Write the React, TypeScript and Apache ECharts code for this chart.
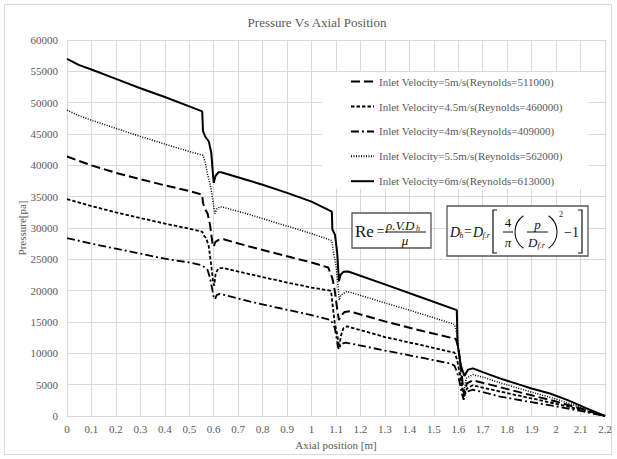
import React, { useEffect, useRef } from "react";
import * as echarts from "echarts";

// Pressure [pa] along the axial position [m] for each inlet velocity.
const seriesNames = [
  "Inlet Velocity=5m/s(Reynolds=511000)",
  "Inlet Velocity=4.5m/s(Reynolds=460000)",
  "Inlet Velocity=4m/s(Reynolds=409000)",
  "Inlet Velocity=5.5m/s(Reynolds=562000)",
  "Inlet Velocity=6m/s(Reynolds=613000)",
];

const vel5: [number, number][] = [
  [0, 41400], [0.1, 40000], [0.2, 38800], [0.3, 37800], [0.4, 36800], [0.5, 35900], [0.553, 35300],
  [0.556, 34000], [0.565, 33000], [0.575, 32300], [0.585, 30500], [0.595, 27500], [0.6, 27000],
  [0.607, 27800], [0.62, 28100], [0.64, 28200], [0.75, 27000], [0.9, 25500], [1.0, 24500],
  [1.068, 23700], [1.075, 23000], [1.085, 22000], [1.095, 20000], [1.105, 17000], [1.112, 15300],
  [1.12, 16000], [1.135, 16600], [1.155, 16700], [1.3, 15100], [1.45, 13600], [1.59, 12300],
  [1.6, 11000], [1.61, 8000], [1.62, 4500], [1.625, 3500], [1.635, 5200], [1.66, 5700],
  [1.771, 4600], [1.9, 3300], [2.0, 2300], [2.1, 1200], [2.2, 0],
];

const vel45: [number, number][] = [
  [0, 34600], [0.1, 33500], [0.2, 32500], [0.3, 31600], [0.4, 30700], [0.5, 29900], [0.553, 29400],
  [0.56, 28800], [0.57, 28300], [0.58, 27000], [0.59, 24000], [0.597, 21500], [0.602, 20800],
  [0.608, 22800], [0.62, 23600], [0.64, 23600], [0.75, 22600], [0.9, 21300], [1.0, 20500],
  [1.076, 20000], [1.08, 19900], [1.088, 17000], [1.095, 14800], [1.105, 13000], [1.113, 11000],
  [1.12, 12800], [1.13, 14000], [1.145, 14300], [1.3, 12600], [1.45, 11300], [1.585, 10100],
  [1.595, 9000], [1.61, 6000], [1.62, 3500], [1.625, 3000], [1.635, 4400], [1.66, 4900],
  [1.771, 3900], [1.9, 2800], [2.0, 1950], [2.1, 1000], [2.2, 0],
];

const vel4: [number, number][] = [
  [0, 28400], [0.1, 27500], [0.2, 26700], [0.3, 25900], [0.4, 25100], [0.5, 24500], [0.548, 24100],
  [0.56, 23800], [0.575, 23300], [0.585, 22000], [0.592, 20600], [0.6, 19000], [0.605, 18600],
  [0.612, 19300], [0.625, 19500], [0.75, 18250], [0.9, 16950], [1.0, 16100], [1.078, 15300],
  [1.088, 14700], [1.095, 14000], [1.1, 13000], [1.108, 11000], [1.113, 10600], [1.12, 11500],
  [1.14, 11700], [1.155, 11600], [1.3, 10450], [1.45, 9300], [1.57, 8350], [1.585, 8000],
  [1.595, 7000], [1.605, 5500], [1.615, 3500], [1.622, 2600], [1.63, 3800], [1.66, 4200],
  [1.771, 3100], [1.9, 2200], [2.0, 1550], [2.1, 800], [2.2, 0],
];

const vel55: [number, number][] = [
  [0, 48800], [0.05, 47900], [0.1, 47200], [0.2, 45900], [0.3, 44600], [0.4, 43400], [0.5, 42200],
  [0.556, 41600], [0.565, 40500], [0.575, 38500], [0.585, 37000], [0.59, 36000], [0.6, 33500],
  [0.605, 32300], [0.612, 33000], [0.626, 33400], [0.64, 33300], [0.75, 32100], [0.9, 30300],
  [1.0, 29100], [1.075, 28100], [1.083, 28000], [1.088, 26500], [1.1, 24000], [1.108, 21000],
  [1.113, 18500], [1.12, 19300], [1.145, 19900], [1.3, 18050], [1.45, 16300], [1.585, 14600],
  [1.595, 13000], [1.605, 9000], [1.615, 5000], [1.622, 3500], [1.632, 6000], [1.66, 6600],
  [1.7, 6200], [1.771, 5300], [1.9, 3800], [2.0, 2700], [2.1, 1400], [2.2, 0],
];

const vel6: [number, number][] = [
  [0, 57000], [0.05, 56000], [0.1, 55300], [0.2, 53800], [0.3, 52300], [0.4, 50900], [0.5, 49400],
  [0.553, 48600], [0.556, 45500], [0.565, 44600], [0.58, 43800], [0.59, 42000], [0.597, 38500],
  [0.6, 37200], [0.607, 38300], [0.62, 38900], [0.63, 38900], [0.75, 37500], [0.8, 36900],
  [0.9, 35600], [1.0, 34200], [1.083, 32600], [1.085, 29800], [1.096, 28900], [1.105, 26000],
  [1.112, 21500], [1.118, 22500], [1.13, 23000], [1.15, 23050], [1.3, 21000], [1.45, 18900],
  [1.594, 16900], [1.597, 11600], [1.61, 8100], [1.625, 6400], [1.64, 7400], [1.66, 7600],
  [1.7, 7000], [1.77, 6000], [1.85, 5000], [1.9, 4400], [1.975, 3600], [2.05, 2500], [2.12, 1300],
  [2.2, 0],
];

const seriesData = [vel5, vel45, vel4, vel55, vel6];
const seriesDash: (number[] | "solid")[] = [[9, 4], [3.5, 2], [8, 3, 2, 3], [1, 1.5], "solid"];
const seriesWidth = [2, 1.8, 1.8, 1.5, 2];

const SERIF = "Liberation Serif";
const GREY = "#595959";

function txt(text: string, x: number, y: number, size: number, italic = false, align = "left") {
  return {
    type: "text",
    x,
    y,
    z: 101,
    style: {
      text,
      fontFamily: SERIF,
      fontSize: size,
      fontStyle: italic ? "italic" : "normal",
      fill: "#111",
      align,
      verticalAlign: "middle",
    },
  };
}

function hline(x1: number, x2: number, y: number) {
  return { type: "line", z: 101, shape: { x1, y1: y, x2, y2: y }, style: { stroke: "#111", lineWidth: 1 } };
}

// Reynolds number and hydraulic diameter formulas, each in its own framed box
const formulaGraphics = [
  {
    type: "rect",
    z: 100,
    shape: { x: 352, y: 213, width: 79, height: 35 },
    style: { fill: "#fff", stroke: "#555", lineWidth: 1.3 },
  },
  txt("Re", 355, 231, 17),
  txt("=", 376.5, 231, 14),
  txt("ρ.V.D", 386, 225, 13, true),
  txt("h", 416, 228, 8, true),
  hline(385, 426, 232),
  txt("μ", 405, 240.5, 13, true, "center"),

  {
    type: "rect",
    z: 100,
    shape: { x: 447, y: 206, width: 141, height: 50 },
    style: { fill: "#fff", stroke: "#555", lineWidth: 1.3 },
  },
  txt("D", 450, 232, 14, true),
  txt("h", 459.5, 235, 8, true),
  txt("=", 464, 231, 14),
  txt("D", 473, 232, 14, true),
  txt("f.r", 482.5, 235, 8, true),
  {
    type: "polyline",
    z: 101,
    shape: { points: [[497, 210], [493, 210], [493, 253], [497, 253]] },
    style: { stroke: "#111", lineWidth: 1.2, fill: null },
  },
  txt("4", 508, 222, 13, false, "center"),
  hline(503, 513, 232),
  txt("π", 508, 242, 13, true, "center"),
  {
    type: "arc",
    z: 101,
    shape: { cx: 535, cy: 232, r: 20, startAngle: Math.PI - 0.95, endAngle: Math.PI + 0.95, clockwise: true },
    style: { stroke: "#111", lineWidth: 1.1, fill: null },
  },
  txt("p", 537.5, 224, 13, true, "center"),
  hline(527, 548, 232),
  txt("D", 528, 242, 13, true),
  txt("f.r", 537.5, 245, 8, true),
  {
    type: "arc",
    z: 101,
    shape: { cx: 537, cy: 232, r: 20, startAngle: -0.95, endAngle: 0.95, clockwise: true },
    style: { stroke: "#111", lineWidth: 1.1, fill: null },
  },
  txt("2", 559, 214, 8),
  txt("−1", 564, 232, 14),
  {
    type: "polyline",
    z: 101,
    shape: { points: [[578, 210], [582, 210], [582, 253], [578, 253]] },
    style: { stroke: "#111", lineWidth: 1.2, fill: null },
  },
];

export default function App() {
  const ref = useRef<HTMLDivElement>(null);

  useEffect(() => {
    if (!ref.current) return;
    const chart = echarts.init(ref.current, null, { renderer: "svg" });
    chart.setOption({
      animation: false,
      backgroundColor: "#fff",
      textStyle: { fontFamily: SERIF },
      title: {
        text: "Pressure Vs Axial Position",
        left: 312,
        top: 11,
        textAlign: "center",
        textStyle: { fontFamily: SERIF, fontSize: 13, fontWeight: "normal", color: GREY },
      },
      grid: { left: 67, right: 12, top: 40, bottom: 43, containLabel: false },
      legend: {
        orient: "vertical",
        left: 322,
        top: 72,
        padding: [4, 26, 2, 28],
        backgroundColor: "#fff",
        itemWidth: 23,
        itemHeight: 14,
        itemGap: 13.7,
        data: seriesNames,
        itemStyle: { opacity: 0 },
        textStyle: { fontFamily: SERIF, fontSize: 11, color: GREY },
      },
      xAxis: {
        type: "value",
        min: 0,
        max: 2.2,
        interval: 0.1,
        name: "Axial position [m]",
        nameLocation: "middle",
        nameGap: 23,
        nameMoveOverlap: false,
        nameTextStyle: { fontFamily: SERIF, fontSize: 11, color: GREY },
        axisLine: { show: true, lineStyle: { color: "#d9d9d9", width: 1 } },
        axisTick: { show: false },
        axisLabel: {
          margin: 7,
          fontFamily: SERIF,
          fontSize: 11,
          color: GREY,
          formatter: (v: number) => String(Math.round(v * 10) / 10),
        },
        splitLine: { show: true, lineStyle: { color: "#d9d9d9", width: 1 } },
      },
      yAxis: {
        type: "value",
        min: 0,
        max: 60000,
        interval: 5000,
        name: "Pressure[pa]",
        nameLocation: "middle",
        nameGap: 40,
        nameMoveOverlap: false,
        nameRotate: 90,
        nameTextStyle: { fontFamily: SERIF, fontSize: 11, color: GREY },
        axisLine: { show: false },
        axisTick: { show: false },
        axisLabel: {
          margin: 9,
          fontFamily: SERIF,
          fontSize: 11,
          color: GREY,
          formatter: (v: number) => String(v),
        },
        splitLine: { show: true, lineStyle: { color: "#d9d9d9", width: 1 } },
      },
      series: seriesNames.map((name, i) => ({
        name,
        type: "line",
        data: seriesData[i],
        symbol: "none",
        smooth: false,
        lineStyle: { color: "#000", width: seriesWidth[i], type: seriesDash[i], cap: "butt" },
        itemStyle: { color: "#000" },
      })),
      graphic: [
        {
          type: "rect",
          z: 0,
          silent: true,
          shape: { x: 4.5, y: 4.5, width: 607, height: 450 },
          style: { fill: null, stroke: "#d9d9d9", lineWidth: 1 },
        },
        ...formulaGraphics,
      ],
    });
    return () => chart.dispose();
  }, []);

  return (
    <div
      ref={ref}
      style={{ position: "absolute", left: 0, top: 0, width: 617, height: 459, background: "#fff" }}
    />
  );
}
